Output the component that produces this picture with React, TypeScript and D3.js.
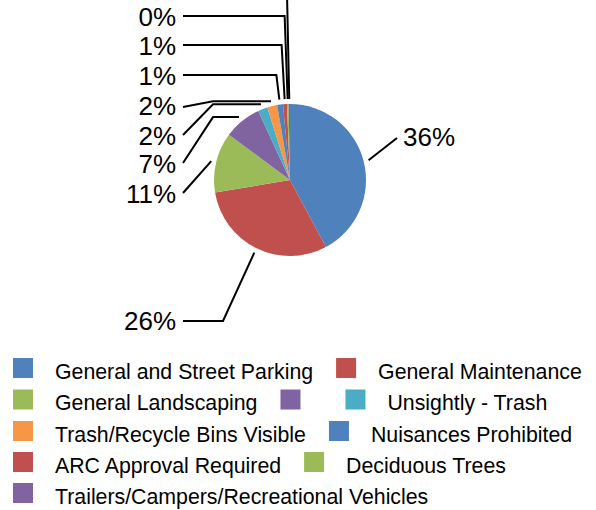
import { useEffect, useRef } from 'react';
import * as d3 from 'd3';

// categories in pie order (clockwise from 12 o'clock)
const categories = [
  'General and Street Parking',
  'General Maintenance',
  'General Landscaping',
  '',
  'Unsightly - Trash',
  'Trash/Recycle Bins Visible',
  'Nuisances Prohibited',
  'ARC Approval Required',
  'Deciduous Trees',
  'Trailers/Campers/Recreational Vehicles',
];

// percent values (labels are rounded)
const values = [36.3, 26.0, 11.0, 6.9, 1.75, 1.8, 1.07, 0.72, 0.3, 0.25];

const colors = [
  '#4F81BD', '#C0504D', '#9BBB59', '#8064A2', '#4BACC6',
  '#F79646', '#4F81BD', '#C0504D', '#9BBB59', '#8064A2',
];

// label placement: text position, where the leader starts and how it bends
type LabelPos = { x: number; y: number; anchor: string; sx: number; sy: number; bend: string };
const labelLayout: LabelPos[] = [
  { x: 403, y: 146, anchor: 'start', sx: 397, sy: 138, bend: 'none' },
  { x: 176, y: 330, anchor: 'end', sx: 183, sy: 321, bend: 'h40' },
  { x: 176, y: 203, anchor: 'end', sx: 183, sy: 193, bend: 'none' },
  { x: 176, y: 173, anchor: 'end', sx: 183, sy: 163, bend: 'dh' },
  { x: 176, y: 145, anchor: 'end', sx: 183, sy: 135, bend: 'dh' },
  { x: 176, y: 115, anchor: 'end', sx: 183, sy: 107, bend: 'dh' },
  { x: 176, y: 85, anchor: 'end', sx: 183, sy: 75, bend: 'hv' },
  { x: 176, y: 55, anchor: 'end', sx: 183, sy: 45, bend: 'hv' },
  { x: 176, y: 26, anchor: 'end', sx: 183, sy: 16, bend: 'hv' },
  // this one sits above the visible area, only its leader shows
  { x: 176, y: -30, anchor: 'end', sx: 183, sy: -40, bend: 'hv' },
];

const font = '"Liberation Sans", Arial, sans-serif';

export default function App() {
  const legendRef = useRef<SVGGElement>(null);

  const width = 596;
  const height = 510;
  const cx = 290;
  const cy = 180;
  const radius = 76;

  const pie = d3.pie<number>().sort(null).value(d => d);
  const arcs = pie(values);
  const arc = d3.arc<d3.PieArcDatum<number>>().innerRadius(0).outerRadius(radius);
  const edge = d3.arc<d3.PieArcDatum<number>>().innerRadius(radius + 5).outerRadius(radius + 5);

  const leader = (i: number) => {
    const L = labelLayout[i];
    const [ex, ey] = edge.centroid(arcs[i]);
    const endX = cx + ex;
    const endY = cy + ey;
    const pts: [number, number][] = [[L.sx, L.sy]];
    if (L.bend === 'h40') pts.push([L.sx + 40, L.sy]);
    if (L.bend === 'dh') pts.push([L.sx + 30, endY]);
    if (L.bend === 'hv') pts.push([endX - 3, L.sy]);
    pts.push([endX, endY]);
    return d3.line()(pts) || '';
  };

  useEffect(() => {
    if (!legendRef.current) return;
    const g = d3.select(legendRef.current);
    g.selectAll('*').remove();

    const startX = 13;
    const maxX = 592;
    const rowTop = [358, 389.5, 421, 452, 483];
    let x = startX;
    let row = 0;

    categories.forEach((name, i) => {
      const t = g.append('text')
        .attr('font-family', font)
        .attr('font-size', 21.3)
        .attr('fill', '#000')
        .text(name);
      const w = name ? (t.node() as SVGTextElement).getComputedTextLength() : 0;
      if (x > startX && x + 42 + w > maxX) {
        row += 1;
        x = startX;
      }
      const top = rowTop[row];
      g.append('rect')
        .attr('x', x)
        .attr('y', top)
        .attr('width', 20)
        .attr('height', 20)
        .attr('fill', colors[i]);
      t.attr('x', x + 42).attr('y', top + 20.5);
      x = x + 42 + w + 23;
    });
  }, []);

  return (
    <svg width={width} height={height} style={{ position: 'absolute', left: 0, top: 0, background: '#fff' }}>
      <g transform={`translate(${cx},${cy})`}>
        {arcs.map((a, i) => (
          <path key={i} d={arc(a) || ''} fill={colors[i]} />
        ))}
      </g>
      {arcs.map((a, i) => (
        <path key={'l' + i} d={leader(i)} fill="none" stroke="#000" strokeWidth={2} />
      ))}
      {values.map((v, i) =>
        labelLayout[i].y < 0 ? null : (
          <text
            key={'t' + i}
            x={labelLayout[i].x}
            y={labelLayout[i].y}
            textAnchor={labelLayout[i].anchor}
            fontFamily={font}
            fontSize={26}
            fill="#000"
          >
            {Math.round(v)}%
          </text>
        )
      )}
      <g ref={legendRef}></g>
    </svg>
  );
}
